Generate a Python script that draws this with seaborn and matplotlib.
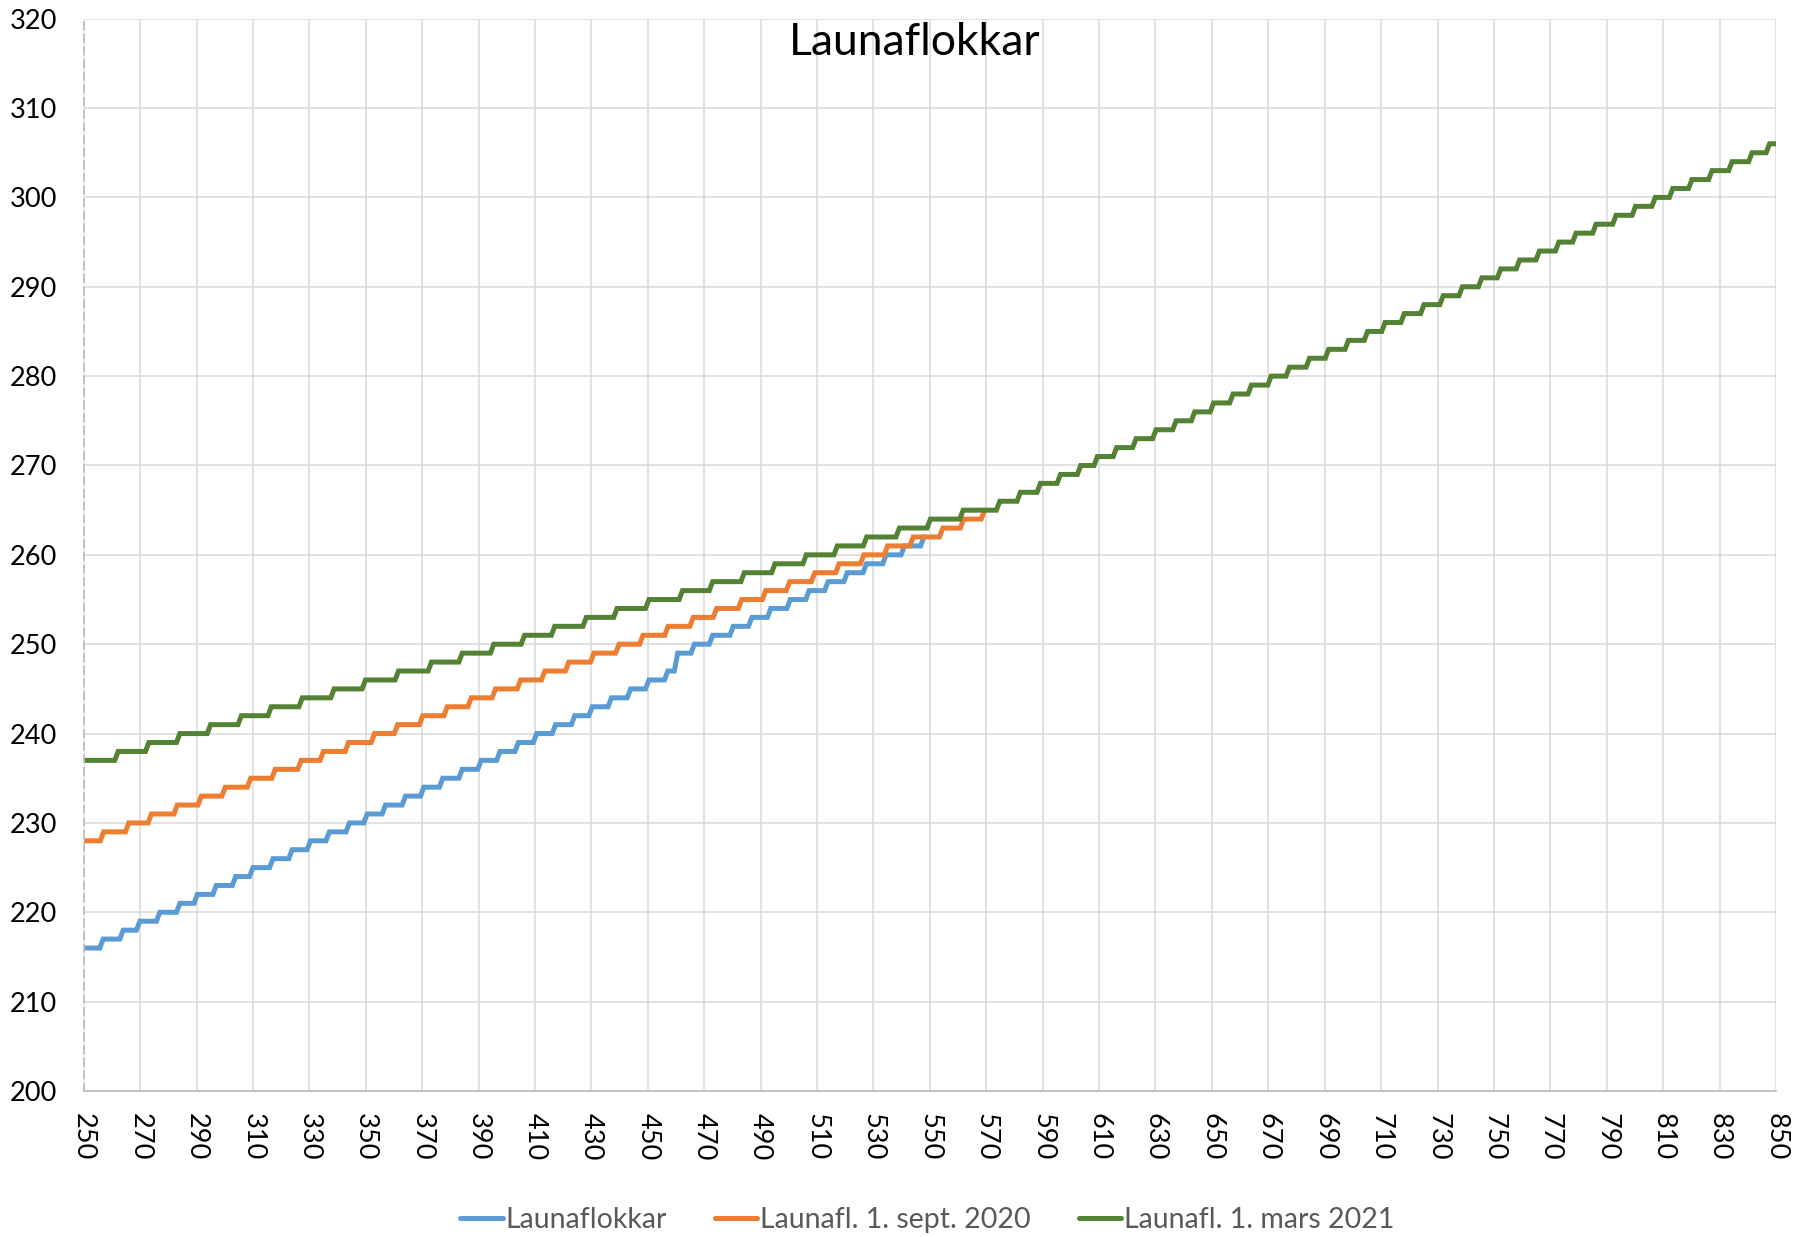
import pandas as pd
import seaborn as sns
import matplotlib.pyplot as plt

# 风格
sns.set_style('white')
plt.rcParams['font.family'] = ['Lato', 'DejaVu Sans']

# ---- 数据（从图中读取：每一级台阶的 x 位置和台阶后的数值） ----
x_start = 250

blue_start = 216
blue_step_x = [256.3, 263.4, 269.3, 276.4, 283.5, 289.7, 296.4, 303.3, 309.4, 316.5,
               323.3, 329.8, 336.5, 343.6, 349.9, 356.4, 363.5, 370.0, 376.7, 383.6,
               390.3, 397.0, 403.5, 410.0, 416.7, 423.5, 429.7, 436.5, 443.3, 449.8,
               456.5, 460.0, 465.9, 472.4, 479.7, 486.3, 493.0, 499.9, 506.6, 513.3,
               520.1, 526.9, 533.9, 540.4, 547.3]
blue_levels = [217, 218, 219, 220, 221, 222, 223, 224, 225, 226,
               227, 228, 229, 230, 231, 232, 233, 234, 235, 236,
               237, 238, 239, 240, 241, 242, 243, 244, 245, 246,
               247, 249, 250, 251, 252, 253, 254, 255, 256, 257,
               258, 259, 260, 261, 262]
blue_end = 548

orange_start = 228
orange_step_x = [256.5, 265.4, 273.4, 282.6, 291.1, 299.6, 308.6, 317.3, 326.5, 334.4,
                 343.3, 352.5, 360.7, 369.6, 378.3, 386.8, 395.4, 404.3, 412.9, 421.4,
                 430.3, 439.2, 447.7, 456.6, 465.5, 473.8, 482.7, 491.2, 499.7, 508.6,
                 517.2, 526.0, 534.4, 543.5, 554.0, 561.4, 568.8]
orange_levels = [229, 230, 231, 232, 233, 234, 235, 236, 237, 238,
                 239, 240, 241, 242, 243, 244, 245, 246, 247, 248,
                 249, 250, 251, 252, 253, 254, 255, 256, 257, 258,
                 259, 260, 261, 262, 263, 264, 265]
orange_end = 569.5

green_start = 237
green_step_x = [261.6, 272.5, 283.5, 294.4, 305.3, 315.9, 326.9, 338.2, 349.3, 361.0,
                372.7, 383.6, 394.8, 405.7, 416.4, 427.6, 438.5, 449.8, 461.7, 472.4,
                483.6, 494.5, 505.6, 516.6, 527.0, 538.6, 549.6, 561.2, 574.2, 581.5,
                588.6, 595.7, 602.9, 608.8, 615.6, 622.5, 629.6, 636.7, 643.3, 650.0,
                656.9, 663.4, 670.4, 676.9, 684.0, 690.8, 697.8, 704.6, 710.8, 717.6,
                724.6, 731.4, 738.2, 745.1, 751.8, 758.5, 765.5, 772.4, 778.5, 785.6,
                792.7, 799.6, 806.6, 812.8, 819.6, 826.7, 833.8, 840.9, 847.1]
green_levels = [238, 239, 240, 241, 242, 243, 244, 245, 246, 247,
                248, 249, 250, 251, 252, 253, 254, 255, 256, 257,
                258, 259, 260, 261, 262, 263, 264, 265, 266, 267,
                268, 269, 270, 271, 272, 273, 274, 275, 276, 277,
                278, 279, 280, 281, 282, 283, 284, 285, 286, 287,
                288, 289, 290, 291, 292, 293, 294, 295, 296, 297,
                298, 299, 300, 301, 302, 303, 304, 305, 306]
green_end = 850

series_names = ['Launaflokkar', 'Launafl. 1. sept. 2020', 'Launafl. 1. mars 2021']
series_colors = ['#5B9BD5', '#ED7D31', '#548235']

x_ticks = list(range(250, 851, 20))
y_ticks = list(range(200, 321, 10))


def step_frame(start_level, step_x, levels, end_x, name):
    # 台阶之间用很短的斜线连起来（原图每一级有约 1 个单位的斜升）
    xs = [x_start]
    ys = [start_level]
    prev = start_level
    for sx, lv in zip(step_x, levels):
        xs += [sx - 0.6, sx + 0.6]
        ys += [prev, lv]
        prev = lv
    xs.append(end_x)
    ys.append(prev)
    return pd.DataFrame({'x': xs, 'y': ys, 'series': name})


df = pd.concat([
    step_frame(blue_start, blue_step_x, blue_levels, blue_end, series_names[0]),
    step_frame(orange_start, orange_step_x, orange_levels, orange_end, series_names[1]),
    step_frame(green_start, green_step_x, green_levels, green_end, series_names[2]),
], ignore_index=True)

# ---- 绘图 ----
fig = plt.figure(figsize=(18, 12.37), dpi=100)
ax = fig.add_axes([83.7 / 1800, 1 - 1091 / 1237, (1776 - 83.7) / 1800, (1091 - 18.7) / 1237])

for name, color in zip(series_names, series_colors):
    sub = df[df['series'] == name]
    sns.lineplot(data=sub, x='x', y='y', ax=ax, color=color, linewidth=3.6,
                 sort=False, estimator=None, label=name, solid_joinstyle='miter')

ax.set_xlim(250, 850)
ax.set_ylim(200, 320)
ax.set_xticks(x_ticks)
ax.set_yticks(y_ticks)
ax.grid(True, color='#D9D9D9', linewidth=1.1)
ax.set_axisbelow(True)
ax.set_xlabel('')
ax.set_ylabel('')

for side in ['top', 'right']:
    ax.spines[side].set_visible(False)
ax.spines['bottom'].set_color('#BFBFBF')
ax.spines['bottom'].set_linewidth(1.3)
ax.spines['left'].set_color('#BFBFBF')
ax.spines['left'].set_linewidth(1.3)
ax.spines['left'].set_linestyle((0, (4, 3)))

ax.tick_params(axis='both', length=0, labelcolor='black', labelsize=19.5)
ax.tick_params(axis='y', pad=19)
ax.tick_params(axis='x', pad=16)
plt.setp(ax.get_xticklabels(), rotation=-90)

ax.get_legend().remove()
handles, labels = ax.get_legend_handles_labels()
fig.legend(handles, labels, loc='center', bbox_to_anchor=(927 / 1800, 1 - 1220 / 1237),
           ncol=3, frameon=False, fontsize=20.5, labelcolor='#595959',
           handlelength=1.5, handletextpad=0.08, columnspacing=1.7)

fig.text(915 / 1800, 1 - 55 / 1237, 'Launaflokkar', ha='center', va='baseline',
         fontsize=32, color='black')

fig.savefig('out.png', dpi=100)
